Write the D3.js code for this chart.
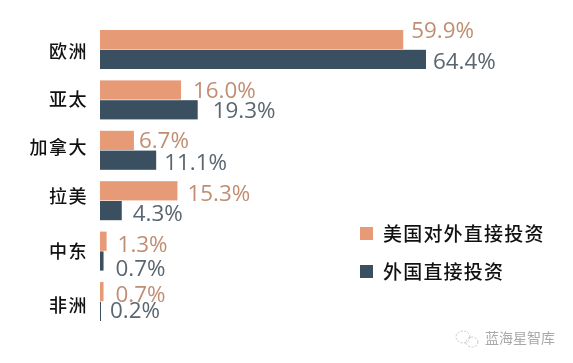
<!DOCTYPE html>
<html><head><meta charset="utf-8">
<script src="https://cdnjs.cloudflare.com/ajax/libs/d3/7.9.0/d3.min.js"></script>
<style>html,body{margin:0;padding:0;background:#fff}svg{display:block;filter:blur(0.4px)}</style>
</head><body><svg id="c" width="573" height="363"></svg>
<script>
const categories=["欧洲","亚太","加拿大","拉美","中东","非洲"];
const usOutward=[59.9,16.0,6.7,15.3,1.3,0.7];
const foreignInward=[64.4,19.3,11.1,4.3,0.7,0.2];
const seriesNames=["美国对外直接投资","外国直接投资"];
const colors=["#e79a76","#3a5060"];
const labelColors=["#c08e72","#5a6670"];
// hand-placed label offsets seen in the reference
const usGap=[8,12,5,10,11,12];
const fiGap=[7,15,8,11,12,9];
const usLift=[-9.5,-0.5,0,2,2.5,2.5];
const fiLift=[1.5,0.5,1.5,2.5,7,-1];
const catLift=[2.5,0,-2,-3,1,5];
const cjk='"Noto Sans CJK SC","Noto Sans",sans-serif';
const latin='"Open Sans","Noto Sans",sans-serif';

const svg=d3.select("#c");
const x=d3.scaleLinear().domain([0,64.4]).range([100,426]);
const y=d3.scaleBand().domain(categories).range([30,321]).paddingInner(0.226);
const sub=d3.scaleBand().domain([0,1]).range([0,y.bandwidth()]).paddingInner(0.03);

const yAxis=d3.axisLeft(y).tickSize(0).tickPadding(12);
const ax=svg.append("g").attr("transform","translate(100,0)").call(yAxis);
ax.select(".domain").remove();
ax.selectAll("text").attr("font-family",cjk).attr("font-size",18).attr("font-weight",500).attr("fill","#111")
  .attr("y",(d,i)=>catLift[i]).style("letter-spacing","1.5px");

[usOutward,foreignInward].forEach((vals,s)=>{
  const gaps=s===0?usGap:fiGap;
  const lift=s===0?usLift:fiLift;
  const g=svg.append("g");
  g.selectAll("rect").data(vals).join("rect")
    .attr("x",x(0))
    .attr("y",(d,i)=>y(categories[i])+sub(s))
    .attr("width",d=>x(d)-x(0))
    .attr("height",sub.bandwidth())
    .attr("fill",colors[s]);
  g.selectAll("text").data(vals).join("text")
    .attr("x",(d,i)=>x(d)+gaps[i])
    .attr("y",(d,i)=>y(categories[i])+sub(s)+sub.bandwidth()/2+lift[i])
    .attr("dy","0.36em")
    .attr("font-family",latin).attr("font-size",22.4)
    .attr("fill",labelColors[s])
    .text(d=>d.toFixed(1)+"%");
});

const leg=svg.append("g").selectAll("g").data(seriesNames).join("g")
  .attr("transform",(d,i)=>`translate(360,${233.5+i*38})`);
leg.append("rect").attr("x",0).attr("y",-6.5).attr("width",13).attr("height",13).attr("fill",(d,i)=>colors[i]);
leg.append("text").attr("x",23).attr("y",1).attr("dy","0.36em")
  .attr("font-family",cjk).attr("font-size",19).attr("font-weight",500).attr("fill","#111")
  .style("letter-spacing","1.2px").text(d=>d);

const wm=svg.append("g").attr("fill","none").attr("stroke","#c4c4c4").attr("stroke-width",1).attr("stroke-dasharray","2 1.5");
wm.append("ellipse").attr("cx",463).attr("cy",337).attr("rx",7).attr("ry",6);
wm.append("ellipse").attr("cx",472).attr("cy",342).attr("rx",6).attr("ry",5);
svg.append("text").attr("x",485).attr("y",343).attr("font-family",cjk).attr("font-size",14)
  .attr("fill","#a8a8a8").text("蓝海星智库");
</script></body></html>
